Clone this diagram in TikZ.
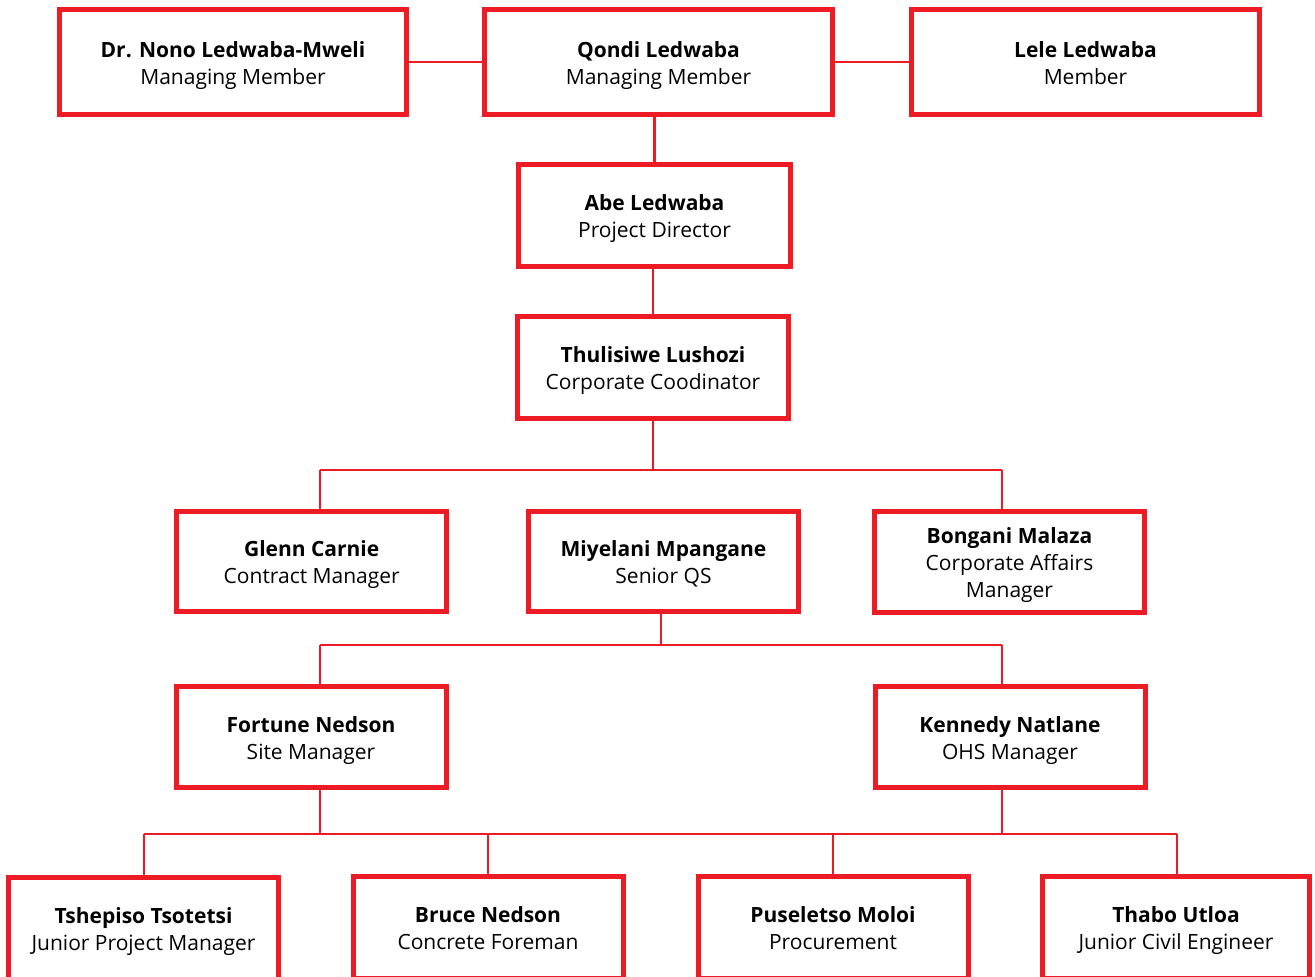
\documentclass[tikz,border=0pt]{standalone}
\usepackage{fontspec}
\setmainfont{Open Sans}
\definecolor{orgred}{RGB}{237,28,36}
\tikzset{
  person/.style={draw=orgred, line width=5pt, fill=white, inner sep=0pt, align=center,
    font=\fontsize{21}{27}\selectfont, text=black, text height=44pt, text depth=0pt},
  person3/.style={person, text height=71pt},
  link/.style={draw=orgred, line width=2.3pt}
}
\newcommand{\pbox}[2]{\textbf{#1}\\#2}
\begin{document}
\begin{tikzpicture}[x=1pt,y=-1pt]
\path[use as bounding box, fill=white] (0,0) rectangle (1315,977);
\clip (0,0) rectangle (1315,977);
% junction coordinates
\coordinate (h1l) at (320,470);
\coordinate (h1r) at (1002,470);
\coordinate (h2l) at (320,645);
\coordinate (h2r) at (1002,645);
\coordinate (h2c) at (661,645);
\coordinate (h3l) at (144,834);
\coordinate (h3r) at (1177,834);
\coordinate (h3a) at (488,834);
\coordinate (h3b) at (833,834);

\node[person, minimum width=347, minimum height=105] (b1) at (233,62) {\pbox{Dr. Nono Ledwaba-Mweli}{Managing Member}};
\node[person, minimum width=348, minimum height=105] (b2) at (658.5,62) {\pbox{Qondi Ledwaba}{Managing Member}};
\node[person, minimum width=348, minimum height=105] (b3) at (1085.5,62) {\pbox{Lele Ledwaba}{Member}};
\node[person, minimum width=272, minimum height=102] (abe) at (654.5,215.5) {\pbox{Abe Ledwaba}{Project Director}};
\node[person, minimum width=271, minimum height=102] (thul) at (653,367.5) {\pbox{Thulisiwe Lushozi}{Corporate Coodinator}};
\node[person, minimum width=270, minimum height=100] (glenn) at (311.7,561.5) {\pbox{Glenn Carnie}{Contract Manager}};
\node[person, minimum width=270, minimum height=100] (miy) at (663.5,561.5) {\pbox{Miyelani Mpangane}{Senior QS}};
\node[person3, minimum width=270, minimum height=101] (bong) at (1009.5,562) {\textbf{Bongani Malaza}\\Corporate Affairs\\Manager};
\node[person, minimum width=270, minimum height=101] (fort) at (311,737) {\pbox{Fortune Nedson}{Site Manager}};
\node[person, minimum width=270, minimum height=101] (ken) at (1010,737) {\pbox{Kennedy Natlane}{OHS Manager}};
\node[person, minimum width=270, minimum height=102] (tshe) at (143.5,928.5) {\pbox{Tshepiso Tsotetsi}{Junior Project Manager}};
\node[person, minimum width=270, minimum height=102] (bruce) at (488,927.5) {\pbox{Bruce Nedson}{Concrete Foreman}};
\node[person, minimum width=270, minimum height=102] (pus) at (833,927.5) {\pbox{Puseletso Moloi}{Procurement}};
\node[person, minimum width=267, minimum height=102] (thabo) at (1176,927.5) {\pbox{Thabo Utloa}{Junior Civil Engineer}};

% top row links
\draw[link] (b1.east) -- (b2.west);
\draw[link] (b2.east) -- (b3.west);
\draw[link] (b2.south -| abe.north) -- (abe.north);
\draw[link] (abe.south -| thul.north) -- (thul.north);
% level 1
\draw[link] (thul.south) -- (thul.south |- h1l);
\draw[link] (h1l) -- (h1r);
\draw[link] (h1l) -- (h1l |- glenn.north);
\draw[link] (h1r) -- (h1r |- bong.north);
% level 2
\draw[link] (h2c |- miy.south) -- (h2c);
\draw[link] (h2l) -- (h2r);
\draw[link] (h2l) -- (h2l |- fort.north);
\draw[link] (h2r) -- (h2r |- ken.north);
% level 3
\draw[link] (h2l |- fort.south) -- (h2l |- h3l);
\draw[link] (h2r |- ken.south) -- (h2r |- h3r);
\draw[link] (h3l) -- (h3r);
\draw[link] (h3l) -- (h3l |- tshe.north);
\draw[link] (h3a) -- (h3a |- bruce.north);
\draw[link] (h3b) -- (h3b |- pus.north);
\draw[link] (h3r) -- (h3r |- thabo.north);
\end{tikzpicture}
\end{document}
